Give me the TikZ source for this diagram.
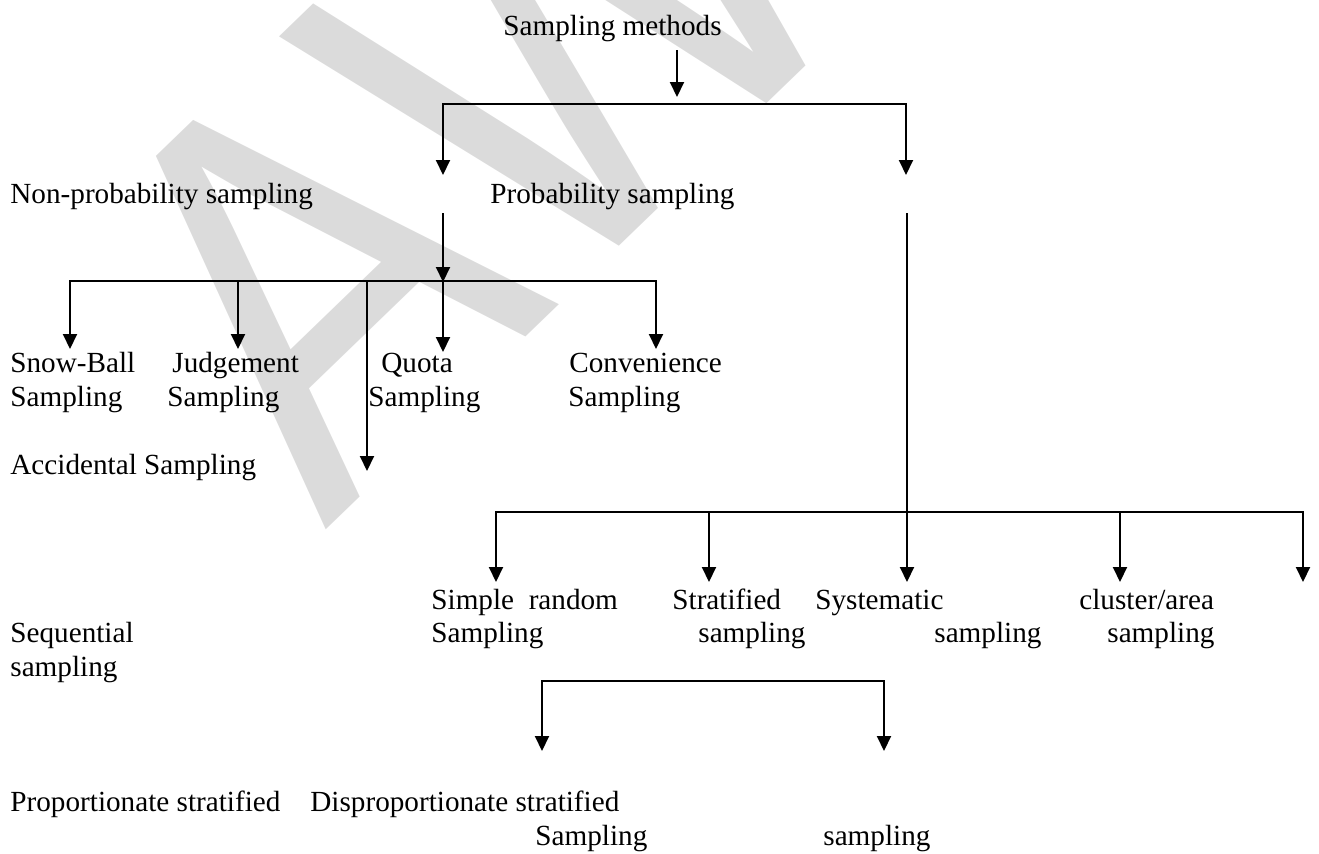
\documentclass[tikz,border=0pt]{standalone}
\usepackage{fontspec}
\setmainfont{Liberation Serif}
\newfontfamily\wmfont{Liberation Sans}
\usetikzlibrary{arrows.meta}
\begin{document}
\begin{tikzpicture}[x=0.5pt,y=-0.5pt,
  lbl/.style={anchor=base west, inner sep=0pt, font=\fontsize{14.6}{17}\selectfont},
  conn/.style={line width=1pt, draw=black},
  arr/.style={conn, -{Triangle[length=7.5pt,width=7pt]}},
  dbl/.style={conn, {Triangle[length=7.5pt,width=7pt]}-{Triangle[length=7.5pt,width=7pt]}},
]
\useasboundingbox (0,0) rectangle (1319,853);
\begin{scope}
\clip (0,0) rectangle (1319,853);
\node[anchor=base west, inner sep=0pt, rotate=44, xscale=0.87, text=black!14,
      font=\wmfont\fontsize{281}{300}\selectfont] (wm) at (325,531) {AW};
\end{scope}

% labels
\node[lbl] (sm) at (503,35) {Sampling methods};
\node[lbl] (np) at (10,203) {Non-probability sampling};
\node[lbl] (pr) at (490,203) {Probability sampling};
\node[lbl] (sb1) at (10,372) {Snow-Ball};
\node[lbl] (sb2) at (10,406) {Sampling};
\node[lbl] (jd1) at (172,372) {Judgement};
\node[lbl] (jd2) at (167,406) {Sampling};
\node[lbl] (qu1) at (381,372) {Quota};
\node[lbl] (qu2) at (368,406) {Sampling};
\node[lbl] (cv1) at (569,372) {Convenience};
\node[lbl] (cv2) at (568,406) {Sampling};
\node[lbl] (ac) at (10,474) {Accidental Sampling};
\node[lbl] (sr1) at (431,609) {Simple~~random};
\node[lbl] (sr2) at (431,642) {Sampling};
\node[lbl] (st1) at (672,609) {Stratified};
\node[lbl] (st2) at (698,642) {sampling};
\node[lbl] (sy1) at (815,609) {Systematic};
\node[lbl] (sy2) at (934,642) {sampling};
\node[lbl] (cl1) at (1079,609) {cluster/area};
\node[lbl] (cl2) at (1107,642) {sampling};
\node[lbl] (sq1) at (10,642) {Sequential};
\node[lbl] (sq2) at (10,676) {sampling};
\node[lbl] (ps) at (10,811) {Proportionate stratified};
\node[lbl] (ds1) at (310,811) {Disproportionate stratified};
\node[lbl] (ds2) at (535,845) {Sampling};
\node[lbl] (ds3) at (823,845) {sampling};

% junction coordinates
\coordinate (t0) at (677,50);
\coordinate (t1) at (677,97);
\coordinate (b1L) at (443,104);
\coordinate (b1R) at (906,104);
\coordinate (a1) at (443,175);
\coordinate (a2) at (906,175);
\coordinate (p0) at (443,213);
\coordinate (b2c) at (443,282);
\coordinate (b2L) at (70,281);
\coordinate (b2R) at (656,281);
\coordinate (b2j) at (238,281);
\coordinate (b2a) at (367,281);
\coordinate (sbt) at (70,349);
\coordinate (jdt) at (238,349);
\coordinate (qut) at (443,352);
\coordinate (cvt) at (656,349);
\coordinate (act) at (367,471);
\coordinate (p1) at (907,213);
\coordinate (syt) at (907,582);
\coordinate (b3L) at (496,512);
\coordinate (b3R) at (1303,512);
\coordinate (b3s) at (709,512);
\coordinate (b3c) at (1120,512);
\coordinate (srt) at (496,582);
\coordinate (stt) at (709,582);
\coordinate (clt) at (1120,582);
\coordinate (ext) at (1303,582);
\coordinate (b4L) at (542,681);
\coordinate (b4R) at (884,681);
\coordinate (pst) at (542,751);
\coordinate (dst) at (884,751);

% connectors
\draw[arr] (t0) -- (t1);
\draw[dbl] (a1) -- (b1L) -- (b1R) -- (a2);
\draw[arr] (p0) -- (b2c);
\draw[dbl] (sbt) -- (b2L) -- (b2R) -- (cvt);
\draw[arr] (b2j) -- (jdt);
\draw[arr] (b2c) -- (qut);
\draw[arr] (b2a) -- (act);
\draw[arr] (p1) -- (syt);
\draw[dbl] (srt) -- (b3L) -- (b3R) -- (ext);
\draw[arr] (b3s) -- (stt);
\draw[arr] (b3c) -- (clt);
\draw[dbl] (pst) -- (b4L) -- (b4R) -- (dst);
\end{tikzpicture}
\end{document}
